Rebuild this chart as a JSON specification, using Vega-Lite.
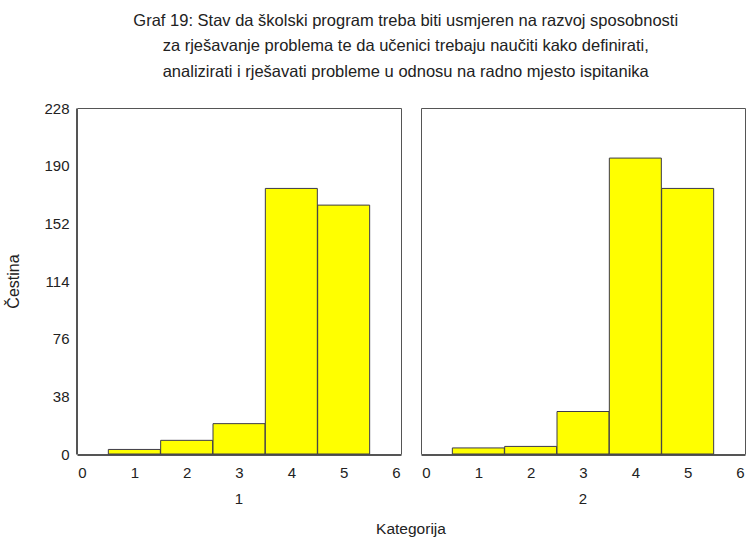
{
  "$schema": "https://vega.github.io/schema/vega-lite/v6.json",
  "background": "white",
  "padding": {"left": 5, "top": 12, "right": 0, "bottom": 0},
  "title": {
    "text": [
      "Graf 19: Stav da školski program treba biti usmjeren na razvoj sposobnosti",
      "za rješavanje problema te da učenici trebaju naučiti kako definirati,",
      "analizirati i rješavati probleme u odnosu na radno mjesto ispitanika"
    ],
    "anchor": "middle",
    "dx": 30,
    "font": "Liberation Sans",
    "fontSize": 16.5,
    "fontWeight": "normal",
    "lineHeight": 25.5,
    "color": "#222",
    "offset": 21
  },
  "data": {
    "values": [
      {"panel": "1", "kategorija": 1, "count": 3},
      {"panel": "1", "kategorija": 2, "count": 9},
      {"panel": "1", "kategorija": 3, "count": 20},
      {"panel": "1", "kategorija": 4, "count": 175},
      {"panel": "1", "kategorija": 5, "count": 164},
      {"panel": "2", "kategorija": 1, "count": 4},
      {"panel": "2", "kategorija": 2, "count": 5},
      {"panel": "2", "kategorija": 3, "count": 28},
      {"panel": "2", "kategorija": 4, "count": 195},
      {"panel": "2", "kategorija": 5, "count": 175}
    ]
  },
  "facet": {
    "column": {
      "field": "panel",
      "type": "nominal",
      "title": "Kategorija",
      "header": {
        "labelOrient": "bottom",
        "titleOrient": "bottom",
        "labelFont": "Liberation Sans",
        "labelFontSize": 15,
        "labelColor": "#222",
        "labelPadding": 12,
        "titleFont": "Liberation Sans",
        "titleFontSize": 15.5,
        "titleFontWeight": "normal",
        "titleColor": "#222",
        "titlePadding": 5
      }
    }
  },
  "spacing": 18,
  "spec": {
    "width": 324,
    "height": 346,
    "mark": {"type": "bar", "size": 52, "fill": "#ffff00", "stroke": "#3c3a4a", "strokeWidth": 1},
    "encoding": {
      "x": {
        "field": "kategorija",
        "type": "quantitative",
        "scale": {"domain": [0, 6], "nice": false},
        "axis": {
          "values": [0, 1, 2, 3, 4, 5, 6],
          "title": null,
          "grid": false,
          "labelFlush": false,
          "labelOverlap": false,
          "labelBound": false,
          "ticks": false,
          "labelPadding": 10
        }
      },
      "y": {
        "field": "count",
        "type": "quantitative",
        "scale": {"domain": [0, 228], "nice": false},
        "axis": {
          "values": [0, 38, 76, 114, 152, 190, 228],
          "title": "Čestina",
          "grid": false,
          "ticks": false,
          "labelPadding": 7,
          "titlePadding": 22
        }
      }
    }
  },
  "config": {
    "view": {"stroke": "#555", "strokeWidth": 1},
    "axis": {
      "domainColor": "#555",
      "labelFont": "Liberation Sans",
      "labelFontSize": 15,
      "labelColor": "#222",
      "titleFont": "Liberation Sans",
      "titleFontSize": 16,
      "titleFontWeight": "normal",
      "titleColor": "#222"
    }
  }
}
